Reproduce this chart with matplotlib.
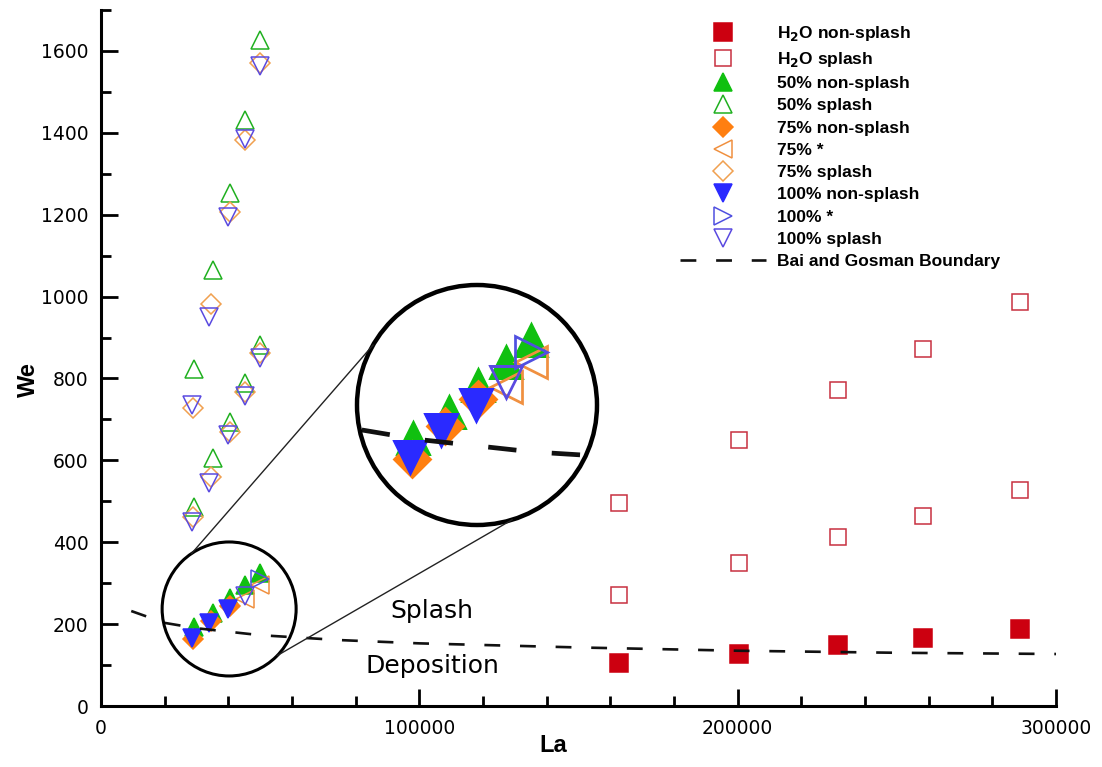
import numpy as np
import matplotlib
matplotlib.use("Agg")
import matplotlib.pyplot as plt
from matplotlib.patches import Circle
from matplotlib.lines import Line2D

# ---- data (La, We) ----
h2o_ns_la = [162600, 200300, 231400, 258200, 288700]
h2o_ns_we = [104, 127, 149, 166, 188]
h2o_sp_la = [162600, 162600, 200300, 200300, 231400, 231400, 258200, 258200, 288700, 288700]
h2o_sp_we = [271, 496, 350, 650, 413, 773, 465, 872, 528, 988]

p50_ns_la = [29100, 35300, 40500, 45300, 49800]
p50_ns_we = [192, 228, 264, 296, 325]
p50_sp_la = [29100, 29100, 35300, 35300, 40500, 40500, 45300, 45300, 49800, 49800]
p50_sp_we = [486, 824, 605, 1064, 694, 1252, 788, 1431, 881, 1626]

p75_ns_la = [28800, 34600, 40500]
p75_ns_we = [163, 208, 245]
p75_st_la = [45300, 49800]
p75_st_we = [262, 295]
p75_sp_la = [28800, 28800, 34600, 34600, 40500, 40500, 45300, 45300, 49800, 49800]
p75_sp_we = [462, 727, 560, 983, 670, 1207, 767, 1382, 861, 1570]

p100_ns_la = [28500, 33900, 40000]
p100_ns_we = [166, 203, 237]
p100_st_la = [49800]
p100_st_we = [309]
p100_sp_la = [28500, 28500, 33900, 33900, 40000, 40000, 45300, 45300, 45300, 49800, 49800]
p100_sp_we = [450, 735, 544, 950, 662, 1195, 269, 757, 1386, 849, 1563]

bnd_la = [9500, 20000, 30000, 50000, 75000, 100000, 150000, 200000, 250000, 300000]
bnd_we = [232, 203, 190, 173, 161, 153, 143, 135, 130, 127]

RED, GREEN, ORANGE, BLUE = "#cc0010", "#10c010", "#ff7f10", "#2a2aff"

series = [
    (h2o_ns_la, h2o_ns_we, "s", RED, True, 12.5, r"H$_\mathbf{2}$O non-splash"),
    (h2o_sp_la, h2o_sp_we, "s", "#c83040", False, 12, r"H$_\mathbf{2}$O splash"),
    (p50_ns_la, p50_ns_we, "^", GREEN, True, 13, "50% non-splash"),
    (p50_sp_la, p50_sp_we, "^", "#20b020", False, 13, "50% splash"),
    (p75_ns_la, p75_ns_we, "D", ORANGE, True, 10.5, "75% non-splash"),
    (p75_st_la, p75_st_we, "<", "#f09040", False, 13, "75% *"),
    (p75_sp_la, p75_sp_we, "D", "#f0a050", False, 10.5, "75% splash"),
    (p100_ns_la, p100_ns_we, "v", BLUE, True, 13, "100% non-splash"),
    (p100_st_la, p100_st_we, ">", "#5050e0", False, 13, "100% *"),
    (p100_sp_la, p100_sp_we, "v", "#5a4ae0", False, 13, "100% splash"),
]


def draw(a, scale=1.0):
    arts = []
    for la, we, m, c, filled, ms, lab in series:
        ln, = a.plot(la, we, ls="none", marker=m, ms=ms * scale,
                     mfc=c if filled else "none", mec=c,
                     mew=1.1 * scale, label=lab)
        arts.append(ln)
    bl, = a.plot(bnd_la, bnd_we, color="#111111", lw=1.9 * scale,
                 dashes=(6, 7.5), label="Bai and Gosman Boundary")
    arts.append(bl)
    return arts


W, H = 1102, 767
fig = plt.figure(figsize=(W / 100, H / 100), dpi=100)
ax = fig.add_axes([101 / W, 1 - 706 / H, 955 / W, 696 / H])
handles = draw(ax)

ax.set_xlim(0, 300000)
ax.set_ylim(0, 1700)
ax.set_xticks([0, 100000, 200000, 300000])
ax.set_xticks(np.arange(0, 300001, 20000), minor=True)
ax.set_yticks(np.arange(0, 1601, 200))
ax.set_yticks(np.arange(0, 1701, 100), minor=True)
ax.tick_params(which="both", direction="in", width=2, labelsize=13.5, pad=9)
ax.tick_params(which="major", length=12)
ax.tick_params(which="minor", length=7)
for s in ("top", "right"):
    ax.spines[s].set_visible(False)
for s in ("left", "bottom"):
    ax.spines[s].set_linewidth(2.2)

fig.text(28 / W, 1 - 380 / H, "We", rotation=90, ha="center", va="center",
         fontsize=17, fontweight="bold", family="Liberation Sans")
fig.text(553 / W, 1 - 746 / H, "La", ha="center", va="center",
         fontsize=17, fontweight="bold", family="Liberation Sans")

ax.text(104000, 232, "Splash", ha="center", va="center", fontsize=18)
ax.text(104000, 98, "Deposition", ha="center", va="center", fontsize=18)

leg = ax.legend(handles=handles, loc="upper left", frameon=False,
                bbox_to_anchor=(671 / W, 1 - 15 / H), bbox_transform=fig.transFigure,
                prop={"family": "Liberation Sans", "weight": "bold", "size": 12.5},
                handlelength=5.0, handletextpad=0.62, labelspacing=0.41,
                borderpad=0, markerscale=1.0)

# ---- magnifier: small circle on the data, enlarged copy in a big circle ----
fig.canvas.draw()
small_c = ax.transData.transform((40250, 237))      # display px
r_small = 67
big_c = np.array([477, H - 405])
R_big = 120
mag = R_big / r_small

inv = ax.transData.inverted()
x0, y0 = inv.transform(small_c - r_small)
x1, y1 = inv.transform(small_c + r_small)

axs = fig.add_axes([(small_c[0] - r_small) / W, (small_c[1] - r_small) / H,
                    2 * r_small / W, 2 * r_small / H])
axs.set_axis_off()
axs.add_patch(Circle((0.5, 0.5), 0.5, transform=axs.transAxes, fill=False,
                     ec="black", lw=2.2, clip_on=False))

axin = fig.add_axes([(big_c[0] - R_big) / W, (big_c[1] - R_big) / H,
                     2 * R_big / W, 2 * R_big / H])
axin.set_axis_off()
axin.add_patch(Circle((0.5, 0.5), 0.5, transform=axin.transAxes, fc="white",
                      ec="none", zorder=0))
clip = Circle((0.5, 0.5), 0.5, transform=axin.transAxes)
for art in draw(axin, mag):
    art.set_clip_path(clip)
axin.set_xlim(x0, x1)
axin.set_ylim(y0, y1)
axin.add_patch(Circle((0.5, 0.5), 0.5, transform=axin.transAxes, fill=False,
                      ec="black", lw=3.2, clip_on=False, zorder=5))

# connector lines between the two circles
for a_small, a_big in ((124, 150), (-44, -73)):
    ps = small_c + r_small * np.array([np.cos(np.radians(a_small)), np.sin(np.radians(a_small))])
    pb = big_c + R_big * np.array([np.cos(np.radians(a_big)), np.sin(np.radians(a_big))])
    fig.add_artist(Line2D([ps[0] / W, pb[0] / W], [ps[1] / H, pb[1] / H],
                          transform=fig.transFigure, color="#222222", lw=1.0))

fig.savefig("out.png", dpi=100)
